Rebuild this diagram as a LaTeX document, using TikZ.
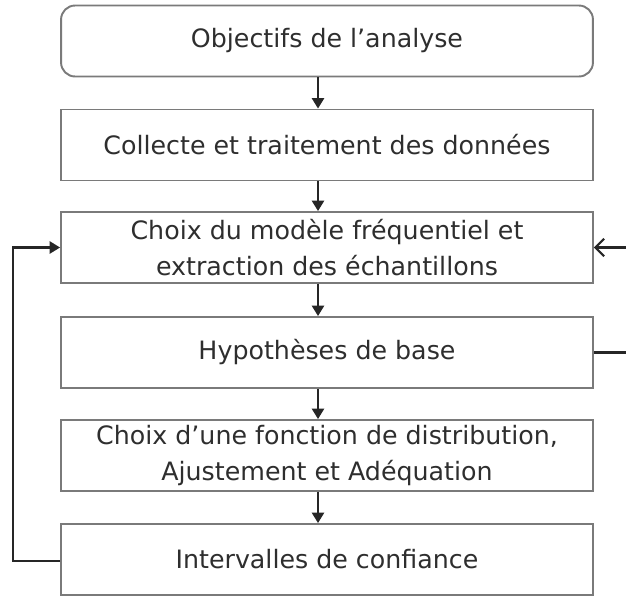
\documentclass[tikz,border=0pt]{standalone}
\usepackage{fontspec}
\setmainfont{DejaVu Sans}
\usepackage{tikz}
\usepackage{xcolor}
\usetikzlibrary{arrows.meta, positioning, calc}

\definecolor{boxline}{HTML}{7A7A7A}
\definecolor{txt}{HTML}{2E2E2E}

\begin{document}
\begin{tikzpicture}[x=0.02cm, y=-0.02cm, font=\fontsize{14.4}{20.4}\selectfont\color{txt},
    stage/.style={draw=boxline, line width=1.1pt, minimum width=10.64cm, minimum height=1.42cm, align=center, inner sep=0pt},
    link/.style={-{Triangle[length=6pt, width=7pt]}, line width=1.2pt, draw=black!85},
    back/.style={-{Straight Barb[length=5pt, width=10pt]}, line width=1.2pt, draw=black!85}]
    \useasboundingbox (0, 0) rectangle (626, 596);

    \node[stage, rounded corners=8pt] (obj) at (327, 41) {Objectifs de l'analyse};
    \node[stage] (coll) at (327, 145) {Collecte et traitement des données};
    \node[stage] (mod) at (327, 247.5) {Choix du modèle fréquentiel et\\extraction des échantillons};
    \node[stage] (hyp) at (327, 352.5) {Hypothèses de base};
    \node[stage] (dist) at (327, 455.5) {Choix d'une fonction de distribution,\\Ajustement et Adéquation};
    \node[stage] (ic) at (327, 559.5) {Intervalles de confiance};

    \coordinate (left) at (13, 0);
    \coordinate (right) at (626, 0);

    % chaine principale
    \draw[link] ([xshift=-0.18cm]obj.south) -- ([xshift=-0.18cm]coll.north);
    \draw[link] ([xshift=-0.18cm]coll.south) -- ([xshift=-0.18cm]mod.north);
    \draw[link] ([xshift=-0.18cm]mod.south) -- ([xshift=-0.18cm]hyp.north);
    \draw[link] ([xshift=-0.18cm]hyp.south) -- ([xshift=-0.18cm]dist.north);
    \draw[link] ([xshift=-0.18cm]dist.south) -- ([xshift=-0.18cm]ic.north);

    % retours
    \draw[link] ([yshift=-0.03cm]ic.west) -- ([yshift=-0.03cm]ic.west -| left) -- (mod.west -| left) -- (mod.west);
    \draw[line width=1.2pt, draw=black!85] (hyp.east) -- (hyp.east -| right);
    \draw[back] (mod.east -| right) -- (mod.east);
\end{tikzpicture}
\end{document}
